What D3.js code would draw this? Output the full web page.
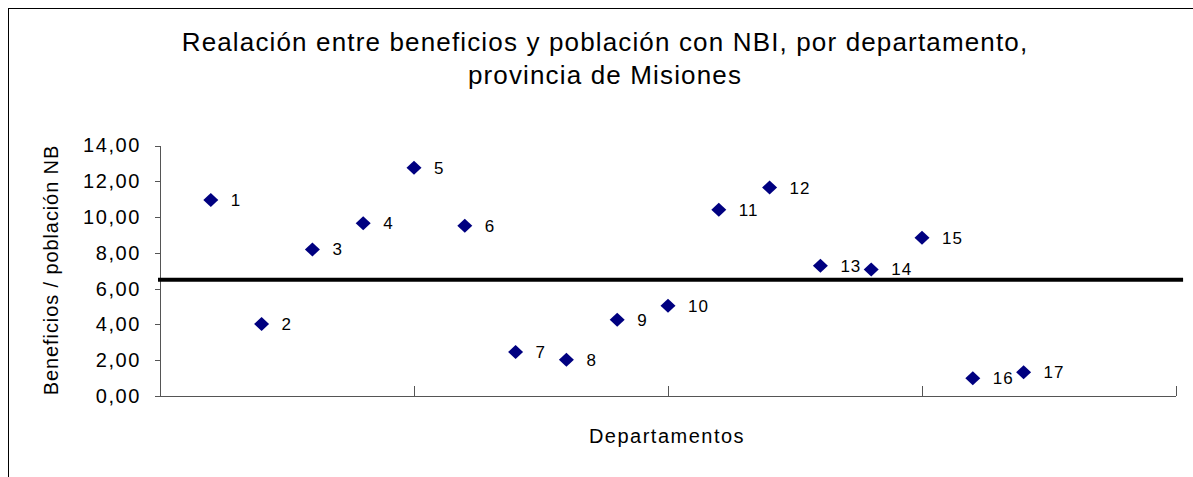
<!DOCTYPE html>
<html>
<head>
  <meta http-equiv="Content-Type" content="text/html;charset=utf-8">
  <title>Beneficios / población NBI</title>
  <script src="https://d3js.org/d3.v7.min.js"></script>
  <style type="text/css">
    body { margin: 0; background: #fff; }
    text { font-family: Arial, "Liberation Sans", sans-serif; fill: #000; }
    .axis path, .axis line { stroke: #555; stroke-width: 1px; shape-rendering: crispEdges; }
    .axis text { font-size: 20px; letter-spacing: 1.6px; }
  </style>
</head>
<body>
  <svg width="1193" height="477"></svg>
  <script type='text/javascript'>
    // departamento number and beneficios / población NBI
    const departamentos = [1, 2, 3, 4, 5, 6, 7, 8, 9, 10, 11, 12, 13, 14, 15, 16, 17];
    const ratios = [10.96, 4.03, 8.19, 9.65, 12.75, 9.52, 2.46, 2.02, 4.26, 5.04,
                    10.41, 11.65, 7.28, 7.07, 8.85, 0.99, 1.33];
    const yTicks = [0, 2, 4, 6, 8, 10, 12, 14];
    const xTicks = [0, 5, 10, 15, 20];
    // reference level drawn as a thick line
    const umbral = 6.5;
    const umbralX = [0, 20.1];

    const titleLines = ['Realación entre beneficios y población con NBI, por departamento,',
                        'provincia de Misiones'];

    const svg = d3.select('svg');

    svg.append('rect')
      .attr('x', 8.5).attr('y', 8.5)
      .attr('width', 1300).attr('height', 600)
      .attr('fill', 'none').attr('stroke', '#000');

    const x = d3.scaleLinear().domain([0, 20]).range([160, 1176]);
    const y = d3.scaleLinear().domain([0, 14]).range([396, 145.5]);

    const es = d3.formatLocale({ decimal: ',', thousands: '.', grouping: [3], currency: ['', ''] });

    svg.append('g')
      .attr('class', 'axis')
      .attr('transform', `translate(${x(0)},0)`)
      .call(d3.axisLeft(y).tickValues(yTicks).tickSize(5).tickPadding(14).tickFormat(es.format('.2f')))
      .call(g => g.select('.domain').attr('d', `M0,${y(14)}V${y(0)}`));

    svg.append('g')
      .attr('class', 'axis')
      .attr('transform', `translate(0,${y(0)})`)
      .call(d3.axisBottom(x).tickValues(xTicks).tickSize(-10).tickFormat(''))
      .call(g => g.select('.domain').attr('d', `M${x(0)},0H${x(20)}`));

    svg.append('line')
      .attr('x1', x(umbralX[0])).attr('x2', x(umbralX[1]))
      .attr('y1', y(umbral)).attr('y2', y(umbral))
      .attr('stroke', '#000').attr('stroke-width', 4)
      .attr('stroke-linecap', 'square');

    const pts = departamentos.map((d, i) => ({ d: d, v: ratios[i] }));

    svg.selectAll('path.pt')
      .data(pts)
      .enter().append('path')
        .attr('class', 'pt')
        .attr('d', 'M0,-7L7.5,0L0,7L-7.5,0Z')
        .attr('fill', '#000080')
        .attr('transform', (p) => `translate(${x(p.d)},${y(p.v)})`);

    svg.selectAll('text.lbl')
      .data(pts)
      .enter().append('text')
        .attr('class', 'lbl')
        .attr('x', (p) => x(p.d) + 20)
        .attr('y', (p) => y(p.v) + 6)
        .attr('font-size', 17)
        .attr('letter-spacing', 1)
        .text((p) => p.d);

    svg.selectAll('text.title')
      .data(titleLines)
      .enter().append('text')
        .attr('class', 'title')
        .attr('x', 605)
        .attr('y', (t, i) => 51 + i * 33)
        .attr('text-anchor', 'middle')
        .attr('font-size', 26)
        .attr('letter-spacing', 1.15)
        .text((t) => t);

    svg.append('text')
      .attr('x', 667).attr('y', 443)
      .attr('text-anchor', 'middle')
      .attr('font-size', 20)
      .attr('letter-spacing', 1.5)
      .text('Departamentos');

    svg.append('text')
      .attr('transform', 'translate(58,270) rotate(-90)')
      .attr('text-anchor', 'middle')
      .attr('font-size', 20)
      .attr('letter-spacing', 0.9)
      .text('Beneficios / población NB');
  </script>
</body>
</html>
